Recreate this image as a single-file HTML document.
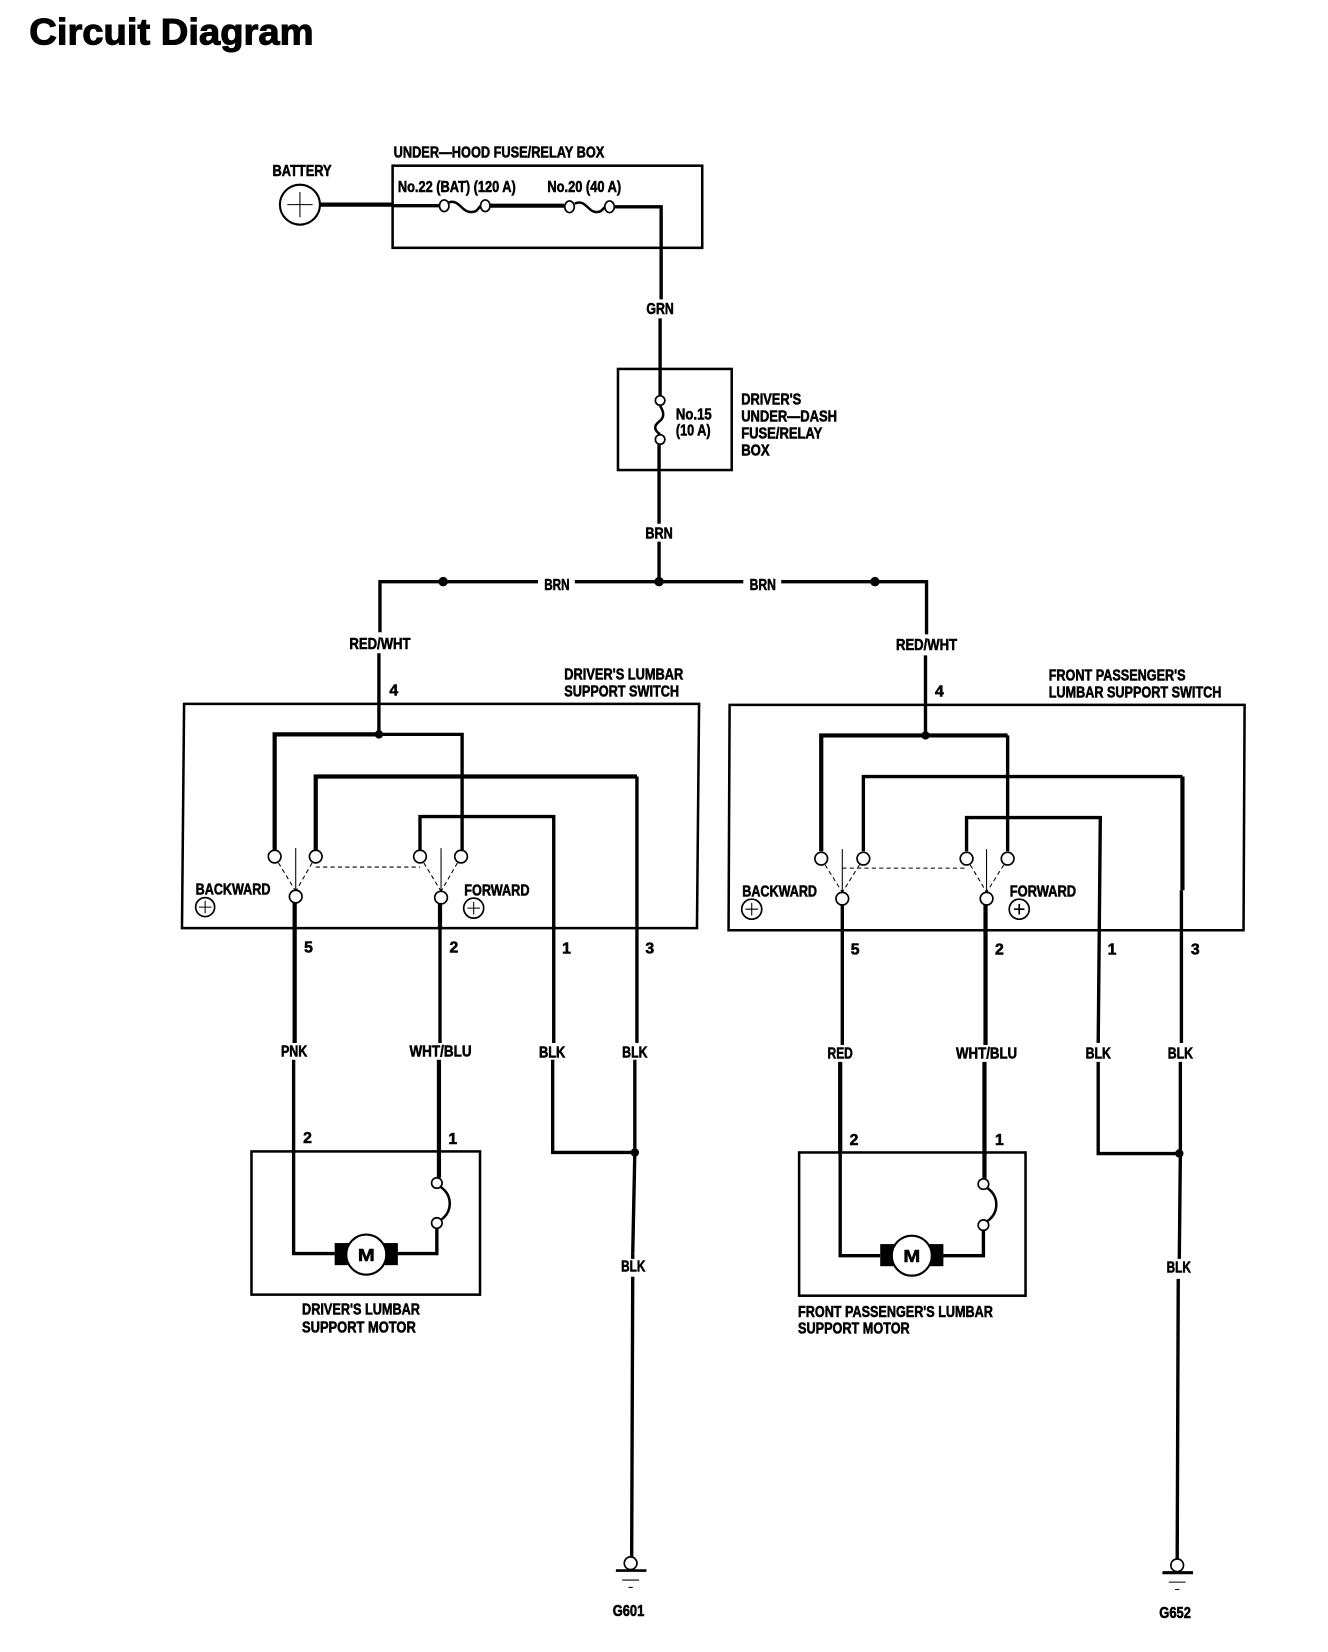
<!DOCTYPE html>
<html><head><meta charset="utf-8"><style>
html,body{margin:0;padding:0;background:#fff;width:1328px;height:1652px;overflow:hidden}
svg{display:block}
text{font-family:"Liberation Sans",sans-serif;font-weight:bold;font-size:15px;fill:#000;stroke:#000;stroke-width:.55}
.n{font-size:15px}
.w{fill:none;stroke:#000;stroke-width:3.2;stroke-linejoin:miter}
.h{fill:none;stroke:#000;stroke-width:4}
.b{fill:none;stroke:#000;stroke-width:2.4}
.t{fill:none;stroke:#000;stroke-width:1}
.d{fill:none;stroke:#000;stroke-width:1;stroke-dasharray:4 3}
.c{fill:#fff;stroke:#000;stroke-width:1.6}
</style></head><body>
<svg width="1328" height="1652" viewBox="0 0 1261 1568.6" xmlns="http://www.w3.org/2000/svg">
<g transform="translate(.8,.3)">
<text x="27" y="42" textLength="270" lengthAdjust="spacingAndGlyphs" style="font-size:35px;stroke-width:1">Circuit Diagram</text>

<!-- top -->
<text x="258" y="167" textLength="56" lengthAdjust="spacingAndGlyphs">BATTERY</text>
<circle cx="284" cy="194" r="19" fill="#fff" stroke="#000" stroke-width="2"/>
<path class="t" d="M272 194H296M284 182V206"/>
<rect class="b" x="372" y="157" width="294" height="78"/>
<text x="373" y="149" textLength="200" lengthAdjust="spacingAndGlyphs">UNDER—HOOD FUSE/RELAY BOX</text>
<text x="377" y="182" textLength="112" lengthAdjust="spacingAndGlyphs">No.22 (BAT) (120 A)</text>
<text x="519" y="182" textLength="70" lengthAdjust="spacingAndGlyphs">No.20 (40 A)</text>
<path class="h" d="M303 194H372"/><path class="w" d="M372 195H416"/>
<path class="b" d="M425 192C435 188 438 202 447 201C453 201 453 197 456 195"/>
<ellipse class="c" cx="421" cy="195" rx="4.5" ry="5.5"/><ellipse class="c" cx="460" cy="195" rx="4.5" ry="5.5"/>
<path class="h" d="M465 195H535"/>
<path class="b" d="M545 193C555 188 558 202 566 201C571 201 571 198 574 196"/>
<ellipse class="c" cx="540" cy="196" rx="4.5" ry="5.5"/><ellipse class="c" cx="578" cy="196" rx="4.5" ry="5.5"/>
<path class="w" d="M582 196H627V284"/>
<text x="613" y="298" textLength="26" lengthAdjust="spacingAndGlyphs">GRN</text>
<path class="w" d="M626 302V375"/>
<rect class="b" x="586" y="350" width="108" height="96"/>
<path class="b" d="M626 385C631 393 629 397 625 400C620 404 620 408 626 412"/>
<circle class="c" cx="626" cy="380" r="4.5"/><circle class="c" cx="626" cy="417" r="4.5"/>
<text x="641" y="398" textLength="34" lengthAdjust="spacingAndGlyphs">No.15</text>
<text x="641" y="413" textLength="33" lengthAdjust="spacingAndGlyphs">(10 A)</text>
<text x="703" y="384" textLength="57" lengthAdjust="spacingAndGlyphs">DRIVER'S</text>
<text x="703" y="400" textLength="91" lengthAdjust="spacingAndGlyphs">UNDER—DASH</text>
<text x="703" y="416" textLength="77" lengthAdjust="spacingAndGlyphs">FUSE/RELAY</text>
<text x="703" y="432" textLength="27" lengthAdjust="spacingAndGlyphs">BOX</text>
<path class="w" d="M625 422V497"/>
<text x="612" y="511" textLength="26" lengthAdjust="spacingAndGlyphs">BRN</text>
<path class="w" d="M625 514V552"/>
<path class="w" d="M360 600V552H510M545 552H705M741 552H879V602"/>
<text x="516" y="560" textLength="24" lengthAdjust="spacingAndGlyphs">BRN</text>
<text x="711" y="560" textLength="25" lengthAdjust="spacingAndGlyphs">BRN</text>
<circle cx="420" cy="552" r="4.5"/><circle cx="625" cy="552" r="4.5"/><circle cx="830" cy="552" r="4.5"/>
<text x="331" y="616" textLength="58" lengthAdjust="spacingAndGlyphs">RED/WHT</text>
<text x="850" y="617" textLength="58" lengthAdjust="spacingAndGlyphs">RED/WHT</text>

<!-- driver's switch -->
<text x="535" y="645" textLength="113" lengthAdjust="spacingAndGlyphs">DRIVER'S LUMBAR</text>
<text x="535" y="661" textLength="109" lengthAdjust="spacingAndGlyphs">SUPPORT SWITCH</text>
<path class="b" d="M174 668H663L661 881H172Z"/>
<text x="369" y="660" class="n">4</text>
<path class="w" d="M359 620V697"/>
<circle cx="359" cy="697" r="4"/>
<path class="h" d="M260 808V697H359"/><path class="w" d="M359 697H438V808"/>
<path class="h" d="M299 808V737H604"/><path class="w" d="M604 737V990"/>
<path class="w" d="M398 808V775H525V990"/>
<path class="d" d="M260 813L280 846M299 813L280 846M299 823H398M398 813L418 846M437 813L418 846"/>
<path class="t" d="M280 805V846M418 805V846"/>
<circle class="c" cx="260" cy="813" r="6"/><circle class="c" cx="299" cy="813" r="6"/><circle class="c" cx="398" cy="813" r="6"/><circle class="c" cx="437" cy="813" r="6"/>
<circle class="c" cx="280" cy="851" r="6"/><circle class="c" cx="418" cy="852" r="6"/>
<text x="185" y="849" textLength="71" lengthAdjust="spacingAndGlyphs">BACKWARD</text>
<text x="440" y="850" textLength="62" lengthAdjust="spacingAndGlyphs">FORWARD</text>
<circle class="c" cx="194" cy="861" r="9"/><path class="t" d="M188 861H200M194 855V867"/>
<circle class="c" cx="449" cy="862" r="9.5"/><path class="t" d="M443 862H455M449 856V868"/>
<text x="288" y="904" class="n">5</text><text x="426" y="904" class="n">2</text><text x="533" y="905" class="n">1</text><text x="612" y="905" class="n">3</text>
<path class="h" d="M279 857V990"/><path class="h" d="M417 857V881"/><path class="w" d="M417 881V990"/>
<text x="266" y="1003" textLength="25" lengthAdjust="spacingAndGlyphs">PNK</text>
<text x="388" y="1003" textLength="59" lengthAdjust="spacingAndGlyphs">WHT/BLU</text>
<text x="511" y="1004" textLength="25" lengthAdjust="spacingAndGlyphs">BLK</text>
<text x="590" y="1004" textLength="24" lengthAdjust="spacingAndGlyphs">BLK</text>
<path class="w" d="M278 1006V1190H317"/>
<path class="h" d="M416 1006V1118"/>
<path class="w" d="M524 1006V1094H602"/>
<path class="w" d="M602 1006V1094L600 1190"/>
<circle cx="602" cy="1094" r="4"/>
<rect class="b" x="238" y="1093" width="217" height="136"/>
<text x="287" y="1085" class="n">2</text><text x="425" y="1086" class="n">1</text>
<path class="b" d="M418 1127C429 1135 429 1150 418 1158"/>
<circle class="c" cx="414" cy="1123" r="5"/><circle class="c" cx="414" cy="1161" r="5"/>
<path class="w" d="M414 1166V1190H375"/>
<rect x="317" y="1180" width="14" height="21"/><rect x="363" y="1180" width="14" height="21"/>
<circle cx="347" cy="1191" r="19" fill="#fff" stroke="#000" stroke-width="2"/>
<text x="339" y="1197" textLength="16" lengthAdjust="spacingAndGlyphs" style="font-size:17px">M</text>
<text x="286" y="1248" textLength="112" lengthAdjust="spacingAndGlyphs">DRIVER'S LUMBAR</text>
<text x="286" y="1265" textLength="108" lengthAdjust="spacingAndGlyphs">SUPPORT MOTOR</text>
<text x="589" y="1207" textLength="23" lengthAdjust="spacingAndGlyphs">BLK</text>
<path class="w" d="M600 1190V1195M600 1212L599 1478"/>
<circle class="c" cx="598" cy="1484" r="6"/>
<path class="b" d="M584 1491H613"/><path class="t" d="M590 1500H606M596 1507H600"/>
<text x="581" y="1534" textLength="30" lengthAdjust="spacingAndGlyphs">G601</text>

<!-- passenger's switch -->
<text x="995" y="646" textLength="130" lengthAdjust="spacingAndGlyphs">FRONT PASSENGER'S</text>
<text x="995" y="662" textLength="164" lengthAdjust="spacingAndGlyphs">LUMBAR SUPPORT SWITCH</text>
<path class="b" d="M692 669H1181L1180 883H691Z"/>
<text x="887" y="661" class="n">4</text>
<path class="w" d="M878 622V698"/>
<circle cx="878" cy="698" r="4"/>
<path class="h" d="M779 808V698H956"/><path class="w" d="M956 698V808"/>
<path class="w" d="M819 808V737H1122"/><path class="h" d="M1122 737V845"/><path class="w" d="M1121 845V990"/>
<path class="w" d="M917 808V776H1044L1042 990"/>
<path class="d" d="M779 815L799 847M819 815L799 847M799 824H917M917 815L936 847M956 815L936 847"/>
<path class="t" d="M799 806V847M936 806V847"/>
<circle class="c" cx="779" cy="815" r="6"/><circle class="c" cx="819" cy="815" r="6"/><circle class="c" cx="917" cy="815" r="6"/><circle class="c" cx="956" cy="815" r="6"/>
<circle class="c" cx="799" cy="853" r="6"/><circle class="c" cx="936" cy="853" r="6"/>
<text x="704" y="851" textLength="71" lengthAdjust="spacingAndGlyphs">BACKWARD</text>
<text x="958" y="851" textLength="63" lengthAdjust="spacingAndGlyphs">FORWARD</text>
<circle class="c" cx="713" cy="863" r="9.5"/><path class="t" d="M707 863H719M713 857V869"/>
<circle class="c" cx="967" cy="863" r="9.5"/><path class="h" d="M962 863H972M967 858V868" style="stroke-width:1.6"/>
<text x="807" y="906" class="n">5</text><text x="944" y="906" class="n">2</text><text x="1051" y="906" class="n">1</text><text x="1130" y="906" class="n">3</text>
<path class="w" d="M799 859V992"/><path class="h" d="M935 859V992"/>
<text x="785" y="1005" textLength="24" lengthAdjust="spacingAndGlyphs">RED</text>
<text x="907" y="1005" textLength="58" lengthAdjust="spacingAndGlyphs">WHT/BLU</text>
<text x="1030" y="1005" textLength="24" lengthAdjust="spacingAndGlyphs">BLK</text>
<text x="1108" y="1005" textLength="24" lengthAdjust="spacingAndGlyphs">BLK</text>
<path class="h" d="M797 1008V1095"/><path class="w" d="M797 1095V1192H835"/>
<path class="h" d="M934 1008V1119"/>
<path class="w" d="M1042 1008V1095H1120"/>
<path class="w" d="M1120 1008V1095L1119 1195"/>
<circle cx="1119" cy="1095" r="4"/>
<rect class="b" x="758" y="1094" width="215" height="136"/>
<text x="806" y="1087" class="n">2</text><text x="944" y="1087" class="n">1</text>
<path class="b" d="M937 1128C948 1136 948 1151 937 1159"/>
<circle class="c" cx="933" cy="1124" r="5"/><circle class="c" cx="933" cy="1163" r="5"/>
<path class="w" d="M933 1168V1192H894"/>
<rect x="835" y="1181" width="14" height="21"/><rect x="881" y="1181" width="14" height="21"/>
<circle cx="865" cy="1192" r="19" fill="#fff" stroke="#000" stroke-width="2"/>
<text x="857" y="1198" textLength="16" lengthAdjust="spacingAndGlyphs" style="font-size:17px">M</text>
<text x="757" y="1250" textLength="185" lengthAdjust="spacingAndGlyphs">FRONT PASSENGER'S LUMBAR</text>
<text x="757" y="1266" textLength="106" lengthAdjust="spacingAndGlyphs">SUPPORT MOTOR</text>
<text x="1107" y="1208" textLength="23" lengthAdjust="spacingAndGlyphs">BLK</text>
<path class="w" d="M1118 1214L1117 1480"/>
<circle class="c" cx="1117" cy="1486" r="6"/>
<path class="h" d="M1103 1493H1132" style="stroke-width:3"/><path class="t" d="M1109 1502H1125M1115 1509H1119"/>
<text x="1100" y="1536" textLength="30" lengthAdjust="spacingAndGlyphs">G652</text>
</g>
</svg>
</body></html>
